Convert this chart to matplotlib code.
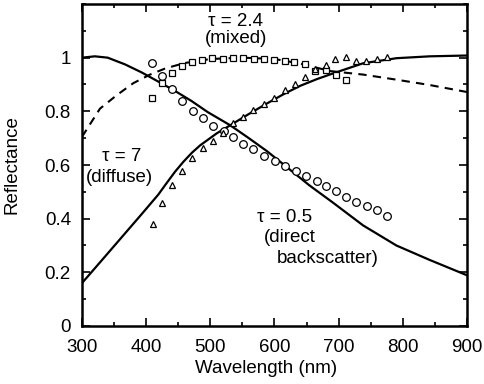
"""Reflectance vs wavelength: model curves and measured points for three optical depths"""

import matplotlib
matplotlib.use("Agg")
import matplotlib.pyplot as plt
from matplotlib.ticker import MultipleLocator

plt.rcParams["font.family"] = ["Liberation Sans", "DejaVu Sans"]
plt.rcParams["font.size"] = 13.5

# ── data ────────────────────────────────────────────────────────────────────

# tau = 0.5 (direct backscatter): model curve + circles
curve05_wl = [300, 320, 340, 367, 393, 418, 445, 471, 496, 531, 560, 588,
              610, 629, 655, 691, 738, 790, 842, 900]
curve05_r = [1.00, 1.005, 1.00, 0.975, 0.945, 0.912, 0.876, 0.838, 0.797,
             0.748, 0.700, 0.652, 0.610, 0.573, 0.523, 0.460, 0.375, 0.300,
             0.246, 0.189]
circ_wl = [409, 425, 440, 456, 473, 489, 504, 521, 536, 551, 567, 584,
           601, 617, 634, 649, 666, 681, 696, 711, 727, 744, 759, 776]
circ_r = [0.98, 0.93, 0.883, 0.84, 0.80, 0.775, 0.745, 0.727, 0.704, 0.679,
          0.660, 0.632, 0.615, 0.595, 0.579, 0.560, 0.542, 0.523, 0.502,
          0.482, 0.461, 0.446, 0.432, 0.409]

# tau = 2.4 (mixed): dashed model curve + squares
curve24_wl = [300, 328, 354, 380, 406, 430, 460, 500, 550, 600, 640, 687,
              738, 790, 842, 900]
curve24_r = [0.705, 0.81, 0.86, 0.905, 0.937, 0.96, 0.98, 0.995, 1.0, 0.995,
             0.978, 0.950, 0.937, 0.918, 0.898, 0.872]
sq_wl = [409, 425, 441, 456, 472, 487, 503, 520, 536, 551, 568, 584, 599,
         616, 630, 648, 663, 680, 696, 711]
sq_r = [0.849, 0.906, 0.943, 0.969, 0.985, 0.992, 0.998, 0.996, 0.998, 0.998,
        0.996, 0.994, 0.991, 0.988, 0.983, 0.975, 0.950, 0.955, 0.937, 0.916]

# tau = 7 (diffuse): model curve + triangles
curve7_wl = [300, 320, 341, 367, 393, 419, 432, 445, 458, 471, 484, 510, 531,
             560, 588, 615, 640, 666, 692, 738, 790, 842, 900]
curve7_r = [0.16, 0.215, 0.273, 0.345, 0.417, 0.49, 0.533, 0.575, 0.612,
            0.645, 0.673, 0.718, 0.748, 0.79, 0.829, 0.865, 0.895, 0.92,
            0.942, 0.979, 0.998, 1.005, 1.008]
tri_wl = [410, 425, 441, 456, 472, 488, 504, 520, 536, 551, 567, 584, 599,
          616, 632, 648, 663, 680, 694, 711, 727, 743, 759, 776]
tri_r = [0.381, 0.459, 0.525, 0.579, 0.626, 0.664, 0.690, 0.720, 0.755,
         0.780, 0.805, 0.826, 0.849, 0.880, 0.902, 0.927, 0.956, 0.972,
         0.994, 1.003, 0.987, 0.987, 0.994, 1.003]

# ── figure ──────────────────────────────────────────────────────────────────

fig = plt.figure(figsize=(4.85, 3.84), dpi=100)
ax = fig.add_axes([82 / 485, 1 - 326 / 384, 385 / 485, 322 / 384])

ax.plot(curve05_wl, curve05_r, color="black", lw=1.6)
ax.plot(curve7_wl, curve7_r, color="black", lw=1.6)
ax.plot(curve24_wl, curve24_r, color="black", lw=1.5, ls=(0, (4, 3)))

mk = dict(ls="none", mfc="white", mec="black", mew=0.9)
ax.plot(circ_wl, circ_r, marker="o", ms=5.5, **mk)
ax.plot(sq_wl, sq_r, marker="s", ms=5, **mk)
ax.plot(tri_wl, tri_r, marker="^", ms=5, **mk)

ax.set_xlim(300, 900)
ax.set_ylim(0, 1.2)
ax.xaxis.set_major_locator(MultipleLocator(100))
ax.xaxis.set_minor_locator(MultipleLocator(50))
ax.yaxis.set_minor_locator(MultipleLocator(0.1))
ax.set_yticks([0, 0.2, 0.4, 0.6, 0.8, 1.0])
ax.set_yticklabels(["0", "0.2", "0.4", "0.6", "0.8", "1"])

ax.tick_params(which="both", direction="in", top=True, right=True, width=1.2)
ax.tick_params(which="major", length=6)
ax.tick_params(which="minor", length=3)
ax.tick_params(axis="x", pad=9)
ax.tick_params(axis="y", pad=8)
for sp in ax.spines.values():
    sp.set_linewidth(1.8)

ax.set_xlabel("Wavelength (nm)")
ax.set_ylabel("Reflectance")
ax.xaxis.set_label_coords(0.478, -0.105)
ax.yaxis.set_label_coords(-0.16, 0.5)

ax.text(540, 1.133, "τ = 2.4", ha="center", va="center")
ax.text(540, 1.073, "(mixed)", ha="center", va="center")
ax.text(362, 0.63, "τ = 7", ha="center", va="center")
ax.text(358, 0.555, "(diffuse)", ha="center", va="center")
ax.text(573, 0.405, "τ = 0.5", ha="left", va="center")
ax.text(584, 0.33, "(direct", ha="left", va="center")
ax.text(603, 0.25, "backscatter)", ha="left", va="center")

fig.savefig("out.png", dpi=100)
